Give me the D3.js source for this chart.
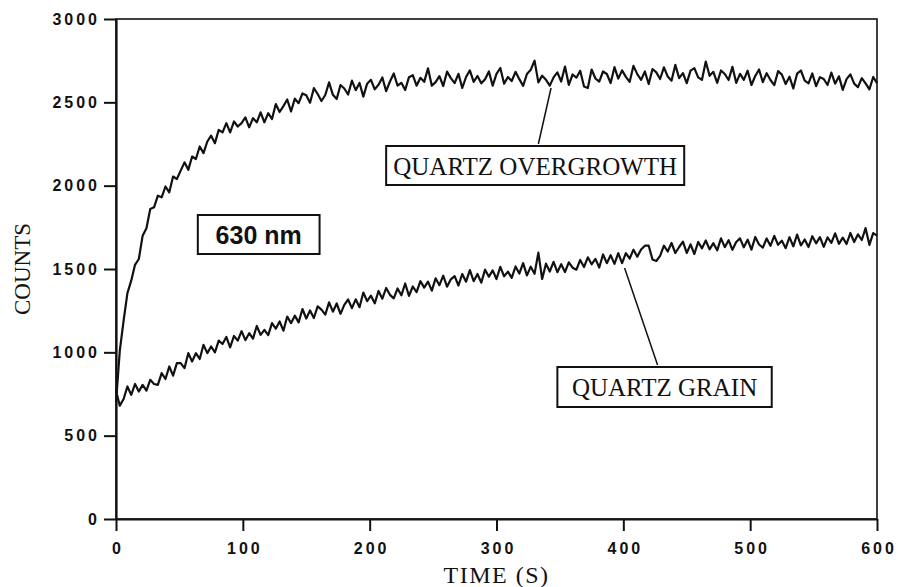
<!DOCTYPE html>
<html>
<head>
<meta charset="utf-8">
<script src="https://cdn.jsdelivr.net/npm/d3@7"></script>
<style>
  body { margin: 0; background: #fff; }
  .tick text { font-family: "Liberation Sans", Arial, sans-serif; font-weight: bold; font-size: 16px; letter-spacing: 3px; }
</style>
</head>
<body>
<div id="chart"></div>
<script>
// sampling times (s), every 3 s from 0 to 600
var times = d3.range(0, 601, 3);

// counts, one per sample time
var overgrowth = [
 700,1010,1190,1355,1430,1525,1560,1700,1745,1860,1870,1940,1930,1995,1960,2055,2040,2090,2140,2095,
 2175,2160,2235,2195,2265,2300,2255,2335,2320,2375,2320,2385,2355,2375,2410,2350,2405,2380,2440,2380,
 2435,2400,2490,2442,2477,2517,2445,2522,2495,2553,
 2542,2498,2585,2550,2508,2544,2620,2545,2520,2604,2583,2547,2630,2573,2616,2534,2612,2635,2578,2606,
 2649,2567,2625,2673,2600,2617,2574,2651,2663,2600,2647,2623,2704,2600,2621,2657,2598,2684,2645,2615,
 2671,2586,2652,2692,2623,2658,2614,2639,2685,2600,2671,2706,2612,2652,2628,2683,2639,2599,2670,2695,
 2750,2620,2660,2635,2600,2650,2680,2625,2715,2605,2667,2648,2689,2595,2586,2697,2643,2624,2685,2670,
 2616,2711,2642,2692,2653,2623,2719,2669,2635,2685,2610,2700,2680,2640,2710,2655,2630,2725,2645,2675,
 2615,2690,2705,2650,2635,2745,2659,2683,2617,2691,2670,2634,2713,2617,2671,2635,2690,2604,2658,2697,
 2621,2675,2634,2603,2687,2666,2610,2654,2583,2672,2691,2630,2614,2673,2597,2651,2640,2604,2678,2612,
 2656,2575,2639,2668,2612,2591,2645,2614,2578,2652,2615
];
var grain = [
 770,680,720,795,745,810,765,805,770,835,810,805,875,840,915,860,935,935,905,995,
 945,995,960,1045,995,1035,1000,1070,1050,1092,1030,1098,1070,1127,1073,1115,1082,1158,1105,1135,
 1103,1175,1142,1185,1130,1215,1175,1220,1180,1260,1203,1251,1206,1276,1256,1226,1300,1244,1293,1231,
 1285,1317,1265,1318,1271,1359,1307,1340,1294,1368,1322,1386,1345,1324,1383,1342,1413,1339,1395,1361,
 1427,1388,1424,1370,1444,1403,1460,1394,1438,1457,1401,1470,1424,1493,1427,1470,1418,1496,1454,1492,
 1440,1513,1456,1484,1447,1515,1473,1535,1462,1514,1471,1598,1440,1532,1485,1543,1481,1529,1482,1540,
 1508,1496,1554,1512,1570,1528,1561,1509,1587,1535,1583,1531,1595,1535,1595,1563,1616,1574,1617,1640,
 1640,1557,1548,1579,1640,1605,1656,1596,1632,1664,1596,1648,1590,1662,1624,1671,1618,1655,1612,1684,
 1631,1673,1615,1662,1684,1630,1676,1616,1692,1647,1628,1683,1639,1699,1645,1670,1625,1691,1636,1706,
 1642,1677,1632,1697,1654,1691,1633,1690,1657,1714,1651,1688,1650,1716,1662,1708,1674,1745,1645,1715,
 1700
];

var xTicks = [0, 100, 200, 300, 400, 500, 600];
var yTicks = [0, 500, 1000, 1500, 2000, 2500, 3000];

var width = 898, height = 587;
var margin = {top: 19, right: 21, bottom: 68, left: 116};
var w = width - margin.left - margin.right;
var h = height - margin.top - margin.bottom;

var svg = d3.select("#chart").append("svg")
    .attr("width", width)
    .attr("height", height);

var g = svg.append("g")
    .attr("transform", "translate(" + margin.left + "," + margin.top + ")");

var x = d3.scaleLinear().domain([0, 600]).range([0, w]);
var y = d3.scaleLinear().domain([0, 3000]).range([h, 0]);

// frame
g.append("rect")
    .attr("width", w).attr("height", h)
    .attr("fill", "none").attr("stroke", "#111").attr("stroke-width", 1.6);

// axes with outward ticks
var xAxis = g.append("g")
    .attr("transform", "translate(0," + h + ")")
    .call(d3.axisBottom(x).tickValues(xTicks).tickFormat(d3.format("d"))
        .tickSize(12).tickSizeOuter(0).tickPadding(12));
var yAxis = g.append("g")
    .call(d3.axisLeft(y).tickValues(yTicks).tickFormat(d3.format("d"))
        .tickSize(12).tickSizeOuter(0).tickPadding(4));

[xAxis, yAxis].forEach(function(a) {
    a.select(".domain").attr("stroke", "#111").attr("stroke-width", 2.2);
    a.selectAll(".tick line").attr("stroke", "#111").attr("stroke-width", 2);
    a.selectAll(".tick text").attr("fill", "#111");
});
xAxis.selectAll(".tick text").attr("dx", "1.5px");

// series
var line = d3.line()
    .x(function(d, i) { return x(times[i]); })
    .y(function(d) { return y(d); });

g.append("path").datum(overgrowth)
    .attr("d", line).attr("fill", "none")
    .attr("stroke", "#111").attr("stroke-width", 2.2).attr("stroke-linejoin", "round");
g.append("path").datum(grain)
    .attr("d", line).attr("fill", "none")
    .attr("stroke", "#111").attr("stroke-width", 2.2).attr("stroke-linejoin", "round");

// axis titles
svg.append("text")
    .attr("x", margin.left + w / 2).attr("y", 583)
    .attr("text-anchor", "middle")
    .style("font-family", "'Liberation Serif', 'Times New Roman', serif")
    .style("font-size", "24px").style("letter-spacing", "1.5px").attr("fill", "#111")
    .text("TIME (S)");
svg.append("text")
    .attr("transform", "translate(30," + (margin.top + h / 2) + ") rotate(-90)")
    .attr("text-anchor", "middle")
    .style("font-family", "'Liberation Serif', 'Times New Roman', serif")
    .style("font-size", "23px").attr("fill", "#111")
    .text("COUNTS");

// boxed labels
function boxLabel(t0, t1, v0, v1, txt, font, size, weight) {
    g.append("rect")
        .attr("x", x(t0)).attr("y", y(v0))
        .attr("width", x(t1) - x(t0)).attr("height", y(v1) - y(v0))
        .attr("fill", "#fff").attr("stroke", "#111").attr("stroke-width", 2);
    g.append("text")
        .attr("x", (x(t0) + x(t1)) / 2)
        .attr("y", (y(v0) + y(v1)) / 2)
        .attr("dy", "0.36em")
        .attr("text-anchor", "middle")
        .style("font-family", font).style("font-size", size).style("font-weight", weight)
        .attr("fill", "#111")
        .text(txt);
}

// leader lines
g.append("line")
    .attr("x1", x(333)).attr("y1", y(2250))
    .attr("x2", x(343)).attr("y2", y(2586))
    .attr("stroke", "#111").attr("stroke-width", 1.5);
g.append("line")
    .attr("x1", x(427)).attr("y1", y(924))
    .attr("x2", x(401)).attr("y2", y(1506))
    .attr("stroke", "#111").attr("stroke-width", 1.5);

boxLabel(64.5, 160.5, 1824, 1590, "630 nm", "'Liberation Sans', Arial, sans-serif", "25px", "bold");
boxLabel(213, 448, 2238, 2004, "QUARTZ OVERGROWTH", "'Liberation Serif', 'Times New Roman', serif", "25px", "normal");
boxLabel(348, 517, 912, 672, "QUARTZ GRAIN", "'Liberation Serif', 'Times New Roman', serif", "25px", "normal");
</script>
</body>
</html>
